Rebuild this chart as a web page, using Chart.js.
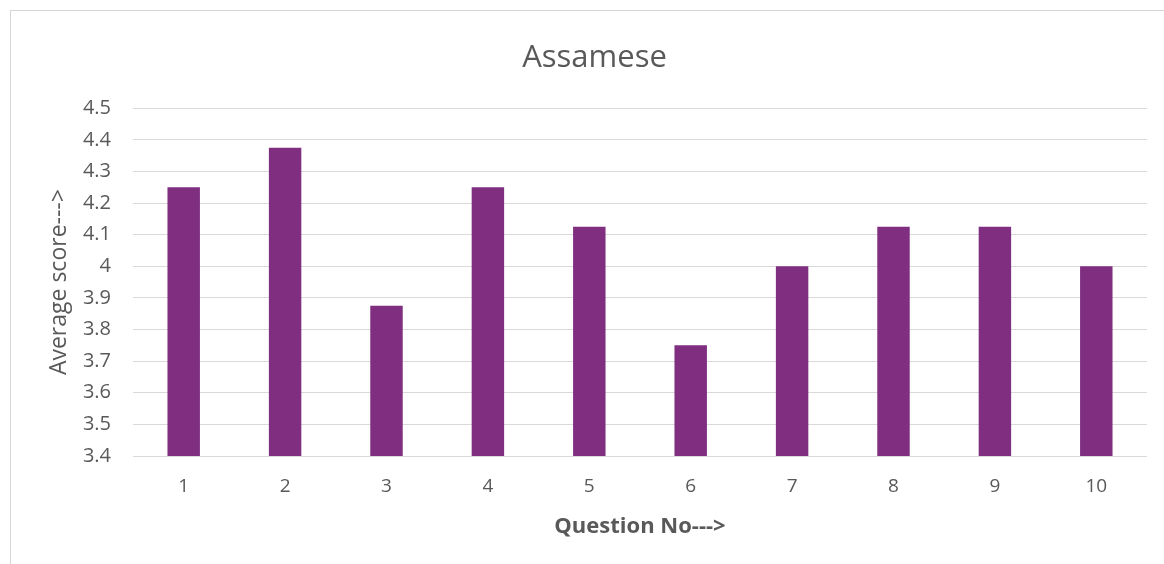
<!DOCTYPE html>
<html>
<head>
<meta charset="utf-8">
<script src="https://cdn.jsdelivr.net/npm/chart.js@4"></script>
<style>
  html, body { margin: 0; padding: 0; background: #fff; }
  #wrap { width: 1164px; height: 564px; }
</style>
</head>
<body>
<div id="wrap"><canvas id="chart" width="1164" height="564"></canvas></div>
<script>
var questions = ['1', '2', '3', '4', '5', '6', '7', '8', '9', '10'];
var avgScores = [4.25, 4.375, 3.875, 4.25, 4.125, 3.75, 4.0, 4.125, 4.125, 4.0];
var yMin = 3.4, yMax = 4.5, yStep = 0.1;

var textColor = '#595959';
var fontFamily = '"Open Sans", "Liberation Sans", sans-serif';

// faint frame round the chart like the original picture
var framePlugin = {
    id: 'frame',
    beforeDraw: function (chart) {
        var ctx = chart.ctx;
        ctx.save();
        ctx.fillStyle = '#fff';
        ctx.fillRect(0, 0, chart.width, chart.height);
        ctx.strokeStyle = '#d6d6d6';
        ctx.lineWidth = 1;
        ctx.strokeRect(10.5, 10.5, chart.width + 20, chart.height + 20);
        ctx.restore();
    }
};

var ctx = document.getElementById('chart').getContext('2d');
var chart = new Chart(ctx, {
    type: 'bar',
    data: {
        labels: questions,
        datasets: [{
            data: avgScores,
            backgroundColor: '#7f2e80',
            borderWidth: 0,
            barPercentage: 0.32,
            categoryPercentage: 1
        }]
    },
    options: {
        responsive: false,
        animation: false,
        layout: { padding: { left: 42, right: 17, top: 0, bottom: 0 } },
        plugins: {
            legend: { display: false },
            tooltip: { enabled: false },
            title: {
                display: true,
                text: 'Assamese',
                color: textColor,
                font: { family: fontFamily, size: 31, weight: 'normal' },
                padding: { top: 40, bottom: 31 }
            }
        },
        scales: {
            x: {
                grid: { display: false, drawTicks: false },
                border: { display: false },
                ticks: {
                    color: textColor,
                    font: { family: fontFamily, size: 19 },
                    padding: 19
                },
                title: {
                    display: true,
                    text: 'Question No--->',
                    color: textColor,
                    font: { family: fontFamily, size: 22, weight: 'bold' },
                    padding: { top: 0, bottom: 24 }
                },
                afterFit: function (scale) { scale.height = 108; }
            },
            y: {
                min: yMin,
                max: yMax,
                grid: { color: '#d9d9d9', lineWidth: 1, drawTicks: false },
                border: { display: false },
                ticks: {
                    stepSize: yStep,
                    color: textColor,
                    font: { family: fontFamily, size: 20 },
                    padding: 22,
                    callback: function (v) { return String(Number(v.toFixed(1))); }
                },
                title: {
                    display: true,
                    text: 'Average score--->',
                    color: textColor,
                    font: { family: fontFamily, size: 23, weight: 'normal' },
                    padding: { top: 4, bottom: 0 }
                },
                afterFit: function (scale) { scale.width = 91; }
            }
        }
    },
    plugins: [framePlugin]
});
</script>
</body>
</html>
